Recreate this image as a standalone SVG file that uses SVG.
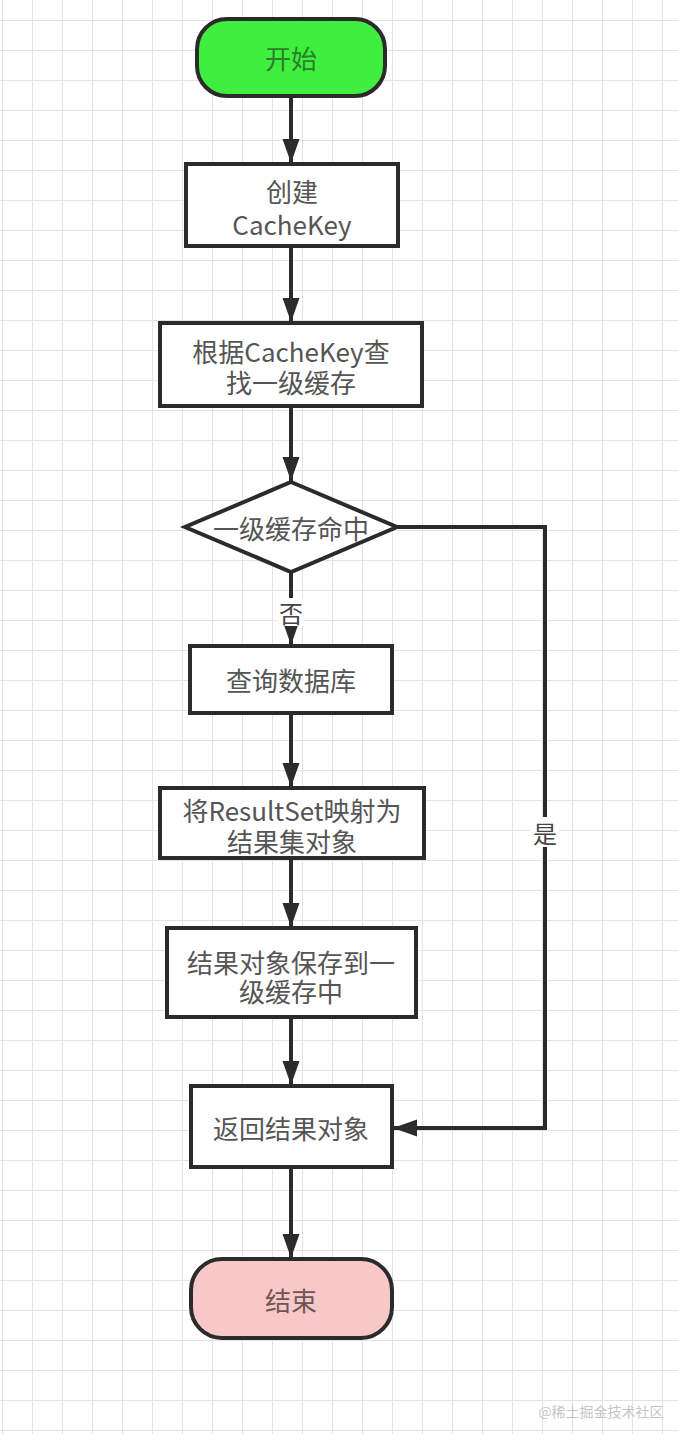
<svg xmlns="http://www.w3.org/2000/svg" width="678" height="1434" viewBox="0 0 678 1434">
  <style>
    .box { fill: #ffffff; stroke: #2b2b2b; stroke-width: 4; }
    .t { font-family: "Noto Sans CJK SC", "Noto Sans", sans-serif; font-size: 26px; fill: #555555; text-anchor: middle; dominant-baseline: central; }
    .edge { fill: none; stroke: #2b2b2b; stroke-width: 4; }
    .lbl { font-family: "Noto Sans CJK SC", "Noto Sans", sans-serif; font-size: 24px; fill: #444444; text-anchor: middle; dominant-baseline: central; }
  </style>
  <defs>
    <pattern id="grid" x="2" y="20" width="30" height="30" patternUnits="userSpaceOnUse">
      <path d="M0,0 H30 M0,0 V30" fill="none" stroke="#e3e3e3" stroke-width="2"/>
    </pattern>
    <marker id="arrow" markerUnits="userSpaceOnUse" markerWidth="26" markerHeight="18" refX="24" refY="8.5" orient="auto">
      <path d="M0,0 L24,8.5 L0,17 z" fill="#2b2b2b"/>
    </marker>
  </defs>
  <rect width="678" height="1434" fill="#ffffff"/>
  <rect width="678" height="1434" fill="url(#grid)"/>

  <g id="connectors">
    <line class="edge" x1="291" y1="96" x2="291" y2="163" marker-end="url(#arrow)"/>
    <line class="edge" x1="291" y1="246" x2="291" y2="322" marker-end="url(#arrow)"/>
    <line class="edge" x1="291" y1="406" x2="291" y2="481" marker-end="url(#arrow)"/>
    <line class="edge" x1="291" y1="572" x2="291" y2="645" marker-end="url(#arrow)"/>
    <rect x="278" y="598" width="26" height="28" fill="#ffffff"/>
    <text class="lbl" x="291" y="612">否</text>
    <line class="edge" x1="291" y1="713" x2="291" y2="787" marker-end="url(#arrow)"/>
    <line class="edge" x1="291" y1="858" x2="291" y2="927" marker-end="url(#arrow)"/>
    <line class="edge" x1="291" y1="1017" x2="291" y2="1085" marker-end="url(#arrow)"/>
    <polyline class="edge" points="397,527 545,527 545,1128 393,1128" marker-end="url(#arrow)"/>
    <rect x="531" y="817" width="28" height="30" fill="#ffffff"/>
    <text class="lbl" x="545" y="832">是</text>
    <line class="edge" x1="291" y1="1167" x2="291" y2="1258" marker-end="url(#arrow)"/>
  </g>

  <g id="start">
    <rect x="197" y="19" width="188" height="77" rx="30" ry="30" fill="#40ee40" stroke="#2b2b2b" stroke-width="4"/>
    <text class="t" x="291" y="57" style="fill:#2a7f2a">开始</text>
  </g>
  <g id="create-key">
    <rect class="box" x="186" y="164" width="212" height="82"/>
    <text class="t" x="292" y="190">创建</text>
    <text class="t" x="292" y="223">CacheKey</text>
  </g>
  <g id="lookup-cache">
    <rect class="box" x="160" y="323" width="262" height="83"/>
    <text class="t" x="291" y="350">根据CacheKey查</text>
    <text class="t" x="291" y="381">找一级缓存</text>
  </g>
  <g id="cache-hit">
    <polygon class="box" points="291,482 397,527 291,572 185,527"/>
    <text class="t" x="291" y="527">一级缓存命中</text>
  </g>
  <g id="query-db">
    <rect class="box" x="190" y="646" width="202" height="67"/>
    <text class="t" x="291" y="679">查询数据库</text>
  </g>
  <g id="map-result">
    <rect class="box" x="160" y="788" width="264" height="70"/>
    <text class="t" x="292" y="809">将ResultSet映射为</text>
    <text class="t" x="292" y="840">结果集对象</text>
  </g>
  <g id="save-cache">
    <rect class="box" x="167" y="928" width="249" height="89"/>
    <text class="t" x="291" y="961">结果对象保存到一</text>
    <text class="t" x="291" y="990">级缓存中</text>
  </g>
  <g id="return-result">
    <rect class="box" x="191" y="1086" width="201" height="81"/>
    <text class="t" x="291" y="1127">返回结果对象</text>
  </g>
  <g id="end">
    <rect x="191" y="1259" width="201" height="79" rx="31" ry="31" fill="#f8c8c8" stroke="#2b2b2b" stroke-width="4"/>
    <text class="t" x="291" y="1299" style="fill:#6e5656">结束</text>
  </g>

  <text x="601" y="1411" font-family="Noto Sans CJK SC, Noto Sans, sans-serif" font-size="14" fill="#c6c6c6" text-anchor="middle" dominant-baseline="central">@稀土掘金技术社区</text>
</svg>
